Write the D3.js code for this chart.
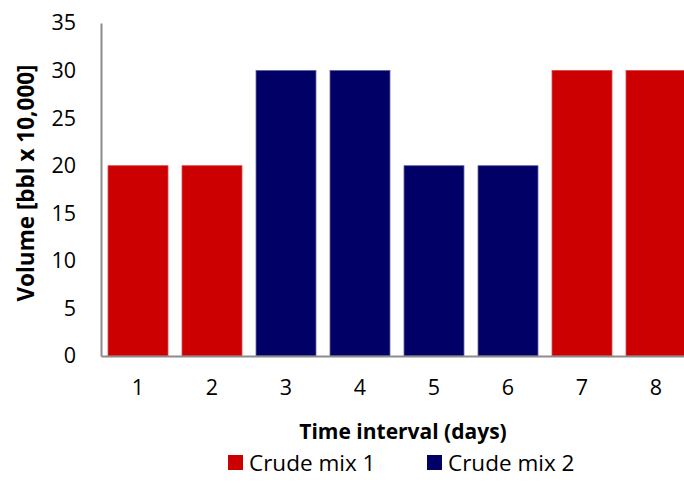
<html>
<script src="https://cdn.jsdelivr.net/npm/d3@7"></script>
<style>
body {margin: 0; background: white;}
text {font-family: "Open Sans", sans-serif; fill: black;}
</style>
<body>
<svg width=684 height=502></svg>
<script>
var days = ["1","2","3","4","5","6","7","8"];
var volume = [20,20,30,30,20,20,30,30];
var mix = ["Crude mix 1","Crude mix 1","Crude mix 2","Crude mix 2","Crude mix 2","Crude mix 2","Crude mix 1","Crude mix 1"];
var series = ["Crude mix 1","Crude mix 2"];
var yTicks = [0,5,10,15,20,25,30,35];

var svg = d3.select("svg");
var mLeft = 101, mRight = 693, mTop = 23, mBottom = 356;

var color = d3.scaleOrdinal().domain(series).range(["#cc0000","#000066"]);
var x = d3.scaleBand().domain(days).range([mLeft, mRight]).paddingInner(0.19).paddingOuter(0.095);
var y = d3.scaleLinear().domain([0,35]).range([mBottom, mTop]);

svg.selectAll("rect.bar")
    .data(days)
    .enter()
    .append("rect")
    .attr("class","bar")
    .attr("x", function(d){ return x(d); })
    .attr("width", x.bandwidth())
    .attr("y", function(d,i){ return y(volume[i]); })
    .attr("height", function(d,i){ return mBottom - y(volume[i]); })
    .attr("fill", function(d,i){ return color(mix[i]); })
    .attr("stroke", function(d,i){ return mix[i] == series[0] ? "#d84040" : "#5a5a98"; })
    .attr("stroke-width", 0.8);

// axes
var gy = svg.append("g").attr("transform","translate(" + mLeft + ",0)")
    .call(d3.axisLeft(y).tickValues(yTicks).tickSize(0).tickPadding(25));
gy.select(".domain").attr("stroke","#8c8c8c").attr("stroke-width",2);
gy.selectAll("text").style("font-size","21.5px");

var gx = svg.append("g").attr("transform","translate(0," + mBottom + ")")
    .call(d3.axisBottom(x).tickSize(0).tickPadding(24));
gx.select(".domain").attr("stroke","#8c8c8c").attr("stroke-width",2);
gx.selectAll("text").style("font-size","21.5px");

// axis titles
svg.append("text")
    .attr("x", 403).attr("y", 439)
    .attr("text-anchor","middle")
    .style("font-size","21px").style("font-weight","bold")
    .text("Time interval (days)");

svg.append("text")
    .attr("transform","translate(34,183) rotate(-90)")
    .attr("text-anchor","middle")
    .style("font-size","22.5px").style("font-weight","bold")
    .text("Volume [bbl x 10,000]");

// legend
var lx = [228, 427];
var lg = svg.selectAll("g.leg").data(series).enter().append("g")
    .attr("class","leg")
    .attr("transform", function(d,i){ return "translate(" + lx[i] + ",455)"; });
lg.append("rect").attr("width",15).attr("height",15).attr("fill", function(d){ return color(d); });
lg.append("text").attr("x",21).attr("y",16).style("font-size","22.5px").text(function(d){ return d; });
</script>
</body>
</html>
